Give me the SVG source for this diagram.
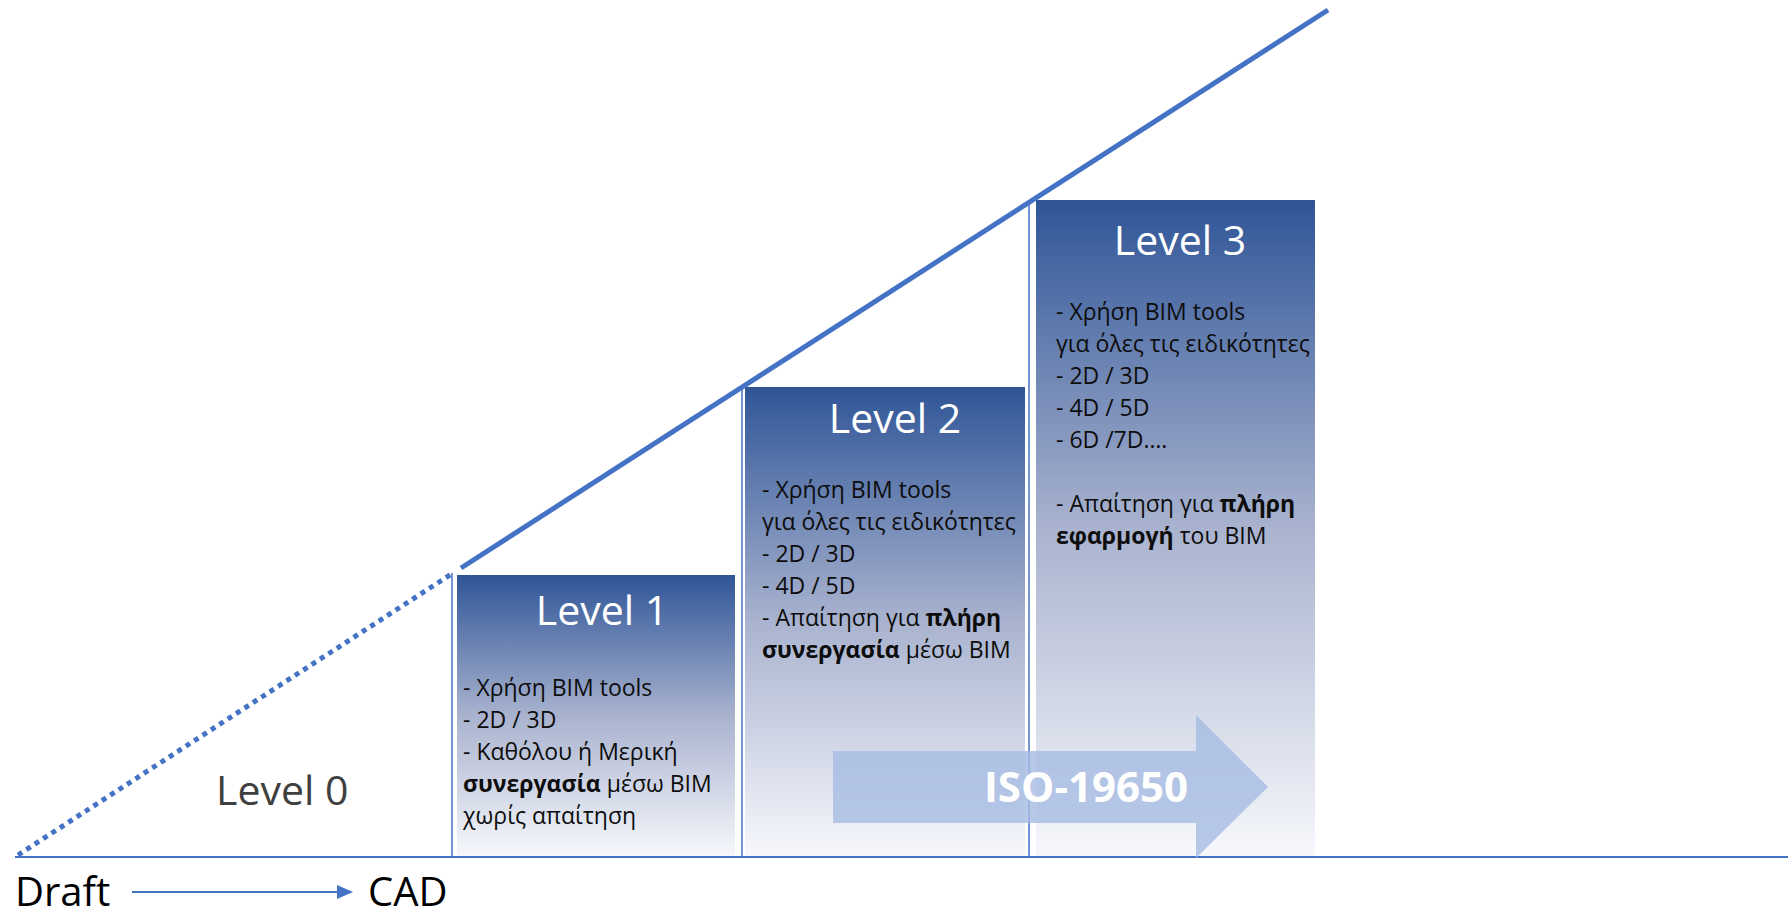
<svg xmlns="http://www.w3.org/2000/svg" width="1788" height="917" viewBox="0 0 1788 917">
<style>
.title{font-family:"Open Sans","Noto Sans",sans-serif;font-size:41px;fill:#ffffff;text-anchor:middle}
.body{font-family:"Open Sans","Noto Sans",sans-serif;font-size:23px;fill:#0d0d0d}
.b{font-weight:bold}
.lbl{font-family:"Open Sans","Noto Sans",sans-serif;font-size:40px;fill:#000000}
.conn{stroke:#4472c4;fill:none}
</style>
<defs>
<linearGradient id="boxGrad" x1="0" y1="0" x2="0" y2="1">
<stop offset="0" stop-color="#2f5597"/>
<stop offset="0.5" stop-color="#a9b3cf"/>
<stop offset="1" stop-color="#f7f8fc"/>
</linearGradient>
<marker id="ah" markerUnits="userSpaceOnUse" markerWidth="16" markerHeight="14" refX="8" refY="7" orient="auto">
<path d="M0,0 L16,7 L0,14 z" fill="#4472c4"/>
</marker>
</defs>

<g id="level1">
<rect x="457" y="575" width="278" height="282" fill="url(#boxGrad)"/>
<text class="title" x="602" y="625">Level 1</text>
<text class="body" x="463" y="696">- Χρήση BIM tools</text>
<text class="body" x="463" y="728">- 2D / 3D</text>
<text class="body" x="463" y="760">- Καθόλου ή Μερική</text>
<text class="body" x="463" y="792"><tspan class="b">συνεργασία</tspan> μέσω BIM</text>
<text class="body" x="463" y="824">χωρίς απαίτηση</text>
</g>

<g id="level2">
<rect x="745" y="387" width="280" height="470" fill="url(#boxGrad)"/>
<text class="title" x="895" y="433">Level 2</text>
<text class="body" x="762" y="498">- Χρήση BIM tools</text>
<text class="body" x="762" y="530">για όλες τις ειδικότητες</text>
<text class="body" x="762" y="562">- 2D / 3D</text>
<text class="body" x="762" y="594">- 4D / 5D</text>
<text class="body" x="762" y="626">- Απαίτηση για <tspan class="b">πλήρη</tspan></text>
<text class="body" x="762" y="658"><tspan class="b">συνεργασία</tspan> μέσω BIM</text>
</g>

<g id="level3">
<rect x="1036" y="200" width="279" height="657" fill="url(#boxGrad)"/>
<text class="title" x="1180" y="255">Level 3</text>
<text class="body" x="1056" y="320">- Χρήση BIM tools</text>
<text class="body" x="1056" y="352">για όλες τις ειδικότητες</text>
<text class="body" x="1056" y="384">- 2D / 3D</text>
<text class="body" x="1056" y="416">- 4D / 5D</text>
<text class="body" x="1056" y="448">- 6D /7D….</text>
<text class="body" x="1056" y="512">- Απαίτηση για <tspan class="b">πλήρη</tspan></text>
<text class="body" x="1056" y="544"><tspan class="b">εφαρμογή</tspan> του BIM</text>
</g>

<g id="connectors">
<line class="conn" x1="452" y1="573" x2="452" y2="857" stroke-width="1.5"/>
<line class="conn" x1="742" y1="388" x2="742" y2="857" stroke-width="1.5"/>
<line class="conn" x1="1029" y1="203" x2="1029" y2="857" stroke-width="1.5"/>
<line class="conn" x1="15" y1="857" x2="1788" y2="857" stroke-width="2"/>
<line class="conn" x1="18" y1="855" x2="453" y2="573" stroke-width="5" stroke-dasharray="5 5"/>
<line class="conn" x1="461" y1="568" x2="1328" y2="10" stroke-width="5"/>
<line class="conn" x1="132" y1="892" x2="345" y2="892" stroke-width="2" marker-end="url(#ah)"/>
</g>

<g id="level0">
<text class="lbl" x="216" y="805" style="fill:#404040;font-size:41px">Level 0</text>
</g>

<g id="iso-arrow">
<polygon points="833,751 1196,751 1196,715 1268,787 1196,858 1196,823 833,823" fill="#a6bce2" fill-opacity="0.8"/>
<text x="1086" y="802" text-anchor="middle" font-family="'Open Sans','Noto Sans',sans-serif" font-weight="bold" font-size="42" fill="#ffffff">ISO-19650</text>
</g>

<g id="draft">
<text class="lbl" x="15" y="906">Draft</text>
</g>
<g id="cad">
<text class="lbl" x="368" y="906">CAD</text>
</g>
</svg>
